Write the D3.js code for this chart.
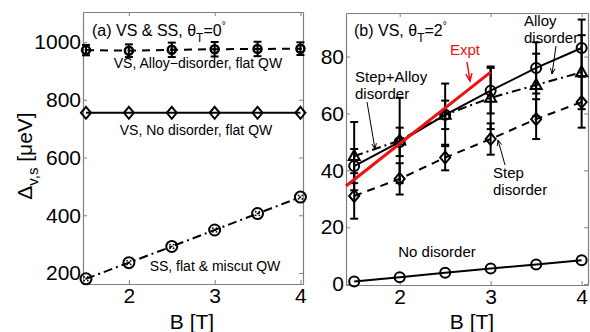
<!DOCTYPE html>
<html>
<head>
<meta charset="utf-8">
<script src="https://cdn.jsdelivr.net/npm/d3@7"></script>
<style>
  body { margin: 0; background: #fff; }
  text { font-family: "Liberation Sans", Arial, sans-serif; fill: #000; }
</style>
</head>
<body>
<div id="chart"></div>
<script>
// magnetic field values (T), shared by every series
const bField = [1.5, 2, 2.5, 3, 3.5, 4];

// panel (a), ueV
const aAlloy = [972, 970, 973, 975, 976, 977];
const aAlloyErr = [18, 22, 25, 25, 25, 22];
const aNoDisorder = [755, 755, 755, 755, 755, 755];
const aSS = [180, 236, 292, 349, 406, 463];

// panel (b), ueV
const bNoDisorder = [0.9, 2.4, 4.0, 5.5, 6.9, 8.4];
const bAlloy = [41.5, 50, 59.5, 68, 76, 83];
const bAlloyErr = [6, 5, 5, 8, 9, 10];
const bStepAlloy = [45, 50.5, 59.5, 65.5, 70, 74.5];
const bStepAlloyErr = [12, 15, 11, 11, 11, 13];
const bStep = [31, 37, 44.5, 51, 58, 64];
const bStepErr = [8, 5.5, 4.5, 5.5, 7, 9];
const exptB = [1.41, 3];
const exptVal = [34.5, 74.5];

const aYTicks = [200, 400, 600, 800, 1000];
const bYTicks = [0, 20, 40, 60, 80];
const xTicks = [2, 3, 4];

const W = 590, H = 332;
const svg = d3.select('#chart').append('svg')
  .attr('width', W).attr('height', H);

const xA = d3.scaleLinear().domain([1.465, 4.03]).range([83, 303]);
const yA = d3.scaleLinear().domain([162, 1104]).range([284, 12]);
const xB = d3.scaleLinear().domain([1.41, 4.07]).range([346, 588]);
const yB = d3.scaleLinear().domain([-0.3, 95.3]).range([285, 13]);

const axisGray = '#808080';
const fmt = d3.format('d');

function drawAxes(x, y, yTicks) {
  const [x0, x1] = x.range();
  const [y0, y1] = y.range();
  const g = svg.append('g');
  const style = sel => {
    sel.select('.domain').attr('stroke', axisGray).attr('stroke-width', 1.2);
    sel.selectAll('.tick line').attr('stroke', axisGray).attr('stroke-width', 1);
    sel.selectAll('.tick text').attr('font-size', 21).attr('fill', '#000')
      .style('font-family', '"Liberation Sans", Arial, sans-serif');
  };
  g.append('g').attr('transform', `translate(0,${y0})`)
    .call(d3.axisBottom(x).tickValues(xTicks).tickFormat(fmt).tickSizeInner(-4).tickSizeOuter(0).tickPadding(4))
    .call(style);
  g.append('g').attr('transform', `translate(0,${y1})`)
    .call(d3.axisTop(x).tickValues(xTicks).tickSizeInner(-4).tickSizeOuter(0).tickFormat(''))
    .call(style);
  g.append('g').attr('transform', `translate(${x0},0)`)
    .call(d3.axisLeft(y).tickValues(yTicks).tickFormat(fmt).tickSizeInner(-4).tickSizeOuter(0).tickPadding(2))
    .call(style);
  g.append('g').attr('transform', `translate(${x1},0)`)
    .call(d3.axisRight(y).tickValues(yTicks).tickSizeInner(-4).tickSizeOuter(0).tickFormat(''))
    .call(style);
}

function drawLine(x, y, xs, ys, dash, color, width) {
  const pts = xs.map((b, i) => [b, ys[i]]);
  svg.append('path')
    .datum(pts)
    .attr('fill', 'none')
    .attr('stroke', color || '#000')
    .attr('stroke-width', width || 2)
    .attr('stroke-dasharray', dash || null)
    .attr('d', d3.line().x(d => x(d[0])).y(d => y(d[1])));
}

function drawErr(x, y, ys, errs) {
  const g = svg.append('g').attr('stroke', '#000').attr('stroke-width', 2);
  bField.forEach((b, i) => {
    const cx = x(b), top = y(ys[i] + errs[i]), bot = y(ys[i] - errs[i]);
    g.append('line').attr('x1', cx).attr('x2', cx).attr('y1', top).attr('y2', bot);
    g.append('line').attr('x1', cx - 4).attr('x2', cx + 4).attr('y1', top).attr('y2', top);
    g.append('line').attr('x1', cx - 4).attr('x2', cx + 4).attr('y1', bot).attr('y2', bot);
  });
}

function drawMarkers(x, y, ys, shape) {
  const g = svg.append('g').attr('fill', 'none').attr('stroke', '#000').attr('stroke-width', 2);
  bField.forEach((b, i) => {
    const cx = x(b), cy = y(ys[i]);
    if (shape === 'circle') {
      g.append('circle').attr('cx', cx).attr('cy', cy).attr('r', 5);
    } else if (shape === 'dotcircle') {
      g.append('circle').attr('cx', cx).attr('cy', cy).attr('r', 5.5);
      [[-1.8, -1.8], [1.8, -1.8], [-1.8, 1.8], [1.8, 1.8], [0, 0]].forEach(o => {
        g.append('circle').attr('cx', cx + o[0]).attr('cy', cy + o[1]).attr('r', 0.9)
          .attr('fill', '#000').attr('stroke', 'none');
      });
    } else if (shape === 'filled') {
      g.append('circle').attr('cx', cx).attr('cy', cy).attr('r', 4).attr('stroke-width', 2.5);
      g.append('circle').attr('cx', cx).attr('cy', cy).attr('r', 1.4).attr('fill', '#000').attr('stroke', 'none');
    } else if (shape === 'diamond') {
      g.append('path').attr('d', `M${cx},${cy - 6}L${cx + 5},${cy}L${cx},${cy + 6}L${cx - 5},${cy}Z`);
    } else if (shape === 'triangle') {
      g.append('path').attr('d', `M${cx},${cy - 6}L${cx + 5.5},${cy + 4}L${cx - 5.5},${cy + 4}Z`);
    }
  });
}

function label(x, y, str, size, anchor, color) {
  return svg.append('text').attr('x', x).attr('y', y)
    .attr('font-size', size).attr('text-anchor', anchor || 'start')
    .style('fill', color || '#000').text(str);
}

function arrow(x1, y1, x2, y2, color, width) {
  const c = color || '#000';
  svg.append('line').attr('x1', x1).attr('y1', y1).attr('x2', x2).attr('y2', y2)
    .attr('stroke', c).attr('stroke-width', width || 1);
  const ang = Math.atan2(y2 - y1, x2 - x1);
  const L = width > 1 ? 8 : 6, s = 0.4;
  const p1 = [x2 - L * Math.cos(ang - s), y2 - L * Math.sin(ang - s)];
  const p2 = [x2 - L * Math.cos(ang + s), y2 - L * Math.sin(ang + s)];
  svg.append('path').attr('d', `M${p1}L${x2},${y2}L${p2}`)
    .attr('fill', 'none').attr('stroke', c).attr('stroke-width', width || 1);
}

// ---- panel (a)
drawAxes(xA, yA, aYTicks);
drawLine(xA, yA, bField, aAlloy, '8,6');
drawErr(xA, yA, aAlloy, aAlloyErr);
drawMarkers(xA, yA, aAlloy, 'filled');
drawLine(xA, yA, bField, aNoDisorder);
drawMarkers(xA, yA, aNoDisorder, 'diamond');
drawLine(xA, yA, bField, aSS, '9,4,2,4');
drawMarkers(xA, yA, aSS, 'dotcircle');

const ta = label(92, 36, '(a) VS & SS, θ', 16);
ta.append('tspan').attr('dy', 6).attr('font-size', 12).text('T');
ta.append('tspan').attr('dy', -6).text('=0');
ta.append('tspan').attr('dy', -7).attr('font-size', 10).text('°');
label(198, 68, 'VS, Alloy\u2212disorder, flat QW', 14, 'middle');
label(196, 135, 'VS, No disorder, flat QW', 14, 'middle');
label(215, 271, 'SS, flat & miscut QW', 14, 'middle');

const yl = svg.append('text')
  .attr('transform', 'translate(32,156) rotate(-90)')
  .attr('text-anchor', 'middle').attr('font-size', 21);
yl.append('tspan').text('Δ');
yl.append('tspan').attr('dy', 6).attr('font-size', 15).text('v,s');
yl.append('tspan').attr('dy', -6).text(' [μeV]');

label(192, 329, 'B [T]', 21, 'middle');

// ---- panel (b)
drawAxes(xB, yB, bYTicks);
drawLine(xB, yB, bField, bNoDisorder);
drawMarkers(xB, yB, bNoDisorder, 'circle');
drawLine(xB, yB, bField, bStep, '8,6');
drawErr(xB, yB, bStep, bStepErr);
drawMarkers(xB, yB, bStep, 'diamond');
drawLine(xB, yB, bField, bStepAlloy, '9,4,2,4');
drawErr(xB, yB, bStepAlloy, bStepAlloyErr);
drawMarkers(xB, yB, bStepAlloy, 'triangle');
drawLine(xB, yB, bField, bAlloy);
drawErr(xB, yB, bAlloy, bAlloyErr);
drawMarkers(xB, yB, bAlloy, 'circle');
drawLine(xB, yB, exptB, exptVal, null, '#f01010', 3);

const tb = label(354, 36, '(b) VS, θ', 16);
tb.append('tspan').attr('dy', 6).attr('font-size', 12).text('T');
tb.append('tspan').attr('dy', -6).text('=2');
tb.append('tspan').attr('dy', -7).attr('font-size', 10).text('°');

label(450, 55, 'Expt', 15, 'start', '#f01010');
arrow(467, 62, 470, 81, '#f01010', 1.5);

label(524, 26, 'Alloy', 15);
label(524, 43, 'disorder', 15);
arrow(556, 46, 552, 74);

label(355, 82, 'Step+Alloy', 15);
label(355, 99, 'disorder', 15);
arrow(367, 102, 375, 149);

label(493, 178, 'Step', 15);
label(493, 195, 'disorder', 15);
arrow(505, 165, 498, 140);

label(437, 257, 'No disorder', 15, 'middle');

label(472, 329, 'B [T]', 21, 'middle');
</script>
</body>
</html>
